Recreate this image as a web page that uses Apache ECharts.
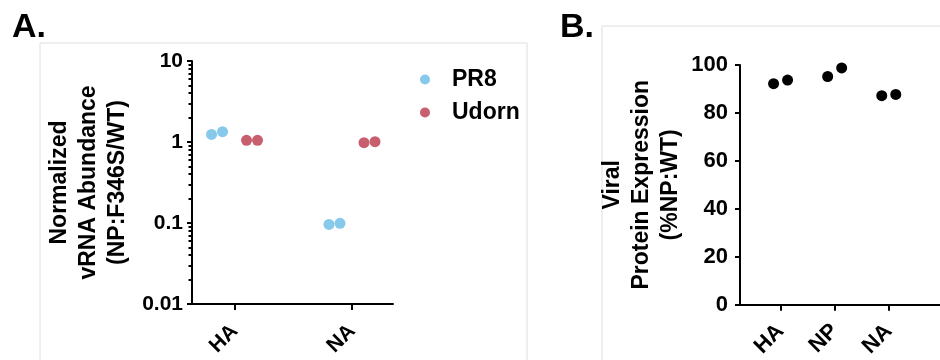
<!DOCTYPE html>
<html>
<head>
<meta charset="utf-8">
<script src="https://cdn.jsdelivr.net/npm/echarts@6/dist/echarts.min.js"></script>
<style>
  html, body { margin: 0; padding: 0; background: #fff; }
  #chart { width: 940px; height: 360px; }
</style>
</head>
<body>
<div id="chart"></div>
<script>
// ---- Panel A data ----
const categoriesA = ['HA', 'NA'];
const pr8Rep1 = [1.24, 0.096];
const pr8Rep2 = [1.34, 0.099];
const udornRep1 = [1.05, 0.98];
const udornRep2 = [1.05, 1.01];
const ticksA = [0.01, 0.1, 1, 10];
const tickLabelsA = ['0.01', '0.1', '1', '10'];
const minorTicksA = [0.02, 0.03, 0.04, 0.05, 0.06, 0.07, 0.08, 0.09,
                     0.2, 0.3, 0.4, 0.5, 0.6, 0.7, 0.8, 0.9,
                     2, 3, 4, 5, 6, 7, 8, 9];

// ---- Panel B data ----
const categoriesB = ['HA', 'NP', 'NA'];
const protRep1 = [92.2, 95.2, 87.2];
const protRep2 = [93.7, 98.8, 87.7];

const FONT = 'Liberation Sans, Arial, sans-serif';
const BLUE = '#86C9EA';
const RED = '#C85F6E';

function pts(vals) { return vals.map((v, i) => [i, v]); }

const chart = echarts.init(document.getElementById('chart'), null, { renderer: 'canvas' });

const option = {
  animation: false,
  backgroundColor: '#fff',
  title: [
    { text: 'A.', left: 7, top: 6, textStyle: { fontFamily: FONT, fontWeight: 'bold', fontSize: 34, color: '#000' } },
    { text: 'B.', left: 555, top: 6, textStyle: { fontFamily: FONT, fontWeight: 'bold', fontSize: 34, color: '#000' } }
  ],
  graphic: [
    { type: 'rect', shape: { x: 40, y: 43, width: 487, height: 340 }, style: { fill: 'none', stroke: '#dedede', lineWidth: 1 }, silent: true, z: -1 },
    { type: 'rect', shape: { x: 602, y: 26, width: 400, height: 400 }, style: { fill: 'none', stroke: '#dedede', lineWidth: 1 }, silent: true, z: -1 }
  ],
  legend: {
    orient: 'vertical',
    left: 415,
    top: 63,
    icon: 'circle',
    itemWidth: 10,
    itemHeight: 10,
    itemGap: 10,
    data: ['PR8', 'Udorn'],
    itemStyle: { opacity: 1 },
    textStyle: { fontFamily: FONT, fontWeight: 'bold', fontSize: 23, color: '#000', lineHeight: 23, padding: [0, 0, 0, 17] }
  },
  grid: [
    { left: 192, top: 61, width: 201, height: 243 },
    { left: 740, top: 65, width: 210, height: 244 }
  ],
  xAxis: [
    {
      type: 'value', gridIndex: 0, min: -0.362, max: 1.349,
      axisLine: { show: true, onZero: false, lineStyle: { color: '#000', width: 2 } },
      axisTick: { show: true, customValues: [0, 1], length: 6, lineStyle: { color: '#000', width: 2 } },
      axisLabel: {
        customValues: [0, 1], rotate: 45, margin: 24,
        formatter: v => categoriesA[Math.round(v)],
        fontFamily: FONT, fontWeight: 'bold', fontSize: 21, color: '#000'
      },
      splitLine: { show: false }
    },
    {
      type: 'value', gridIndex: 1, min: -0.75, max: -0.75 + 210 / 56.8,
      axisLine: { show: true, onZero: false, lineStyle: { color: '#000', width: 2 } },
      axisTick: { show: true, customValues: [0, 1, 2], length: 6, lineStyle: { color: '#000', width: 2 } },
      axisLabel: {
        customValues: [0, 1, 2], rotate: 45, margin: 23,
        formatter: v => categoriesB[Math.round(v)],
        fontFamily: FONT, fontWeight: 'bold', fontSize: 22, color: '#000'
      },
      splitLine: { show: false }
    }
  ],
  yAxis: [
    {
      type: 'log', logBase: 10, gridIndex: 0, min: 0.01, max: 10,
      name: 'Normalized\nvRNA Abundance\n(NP:F346S/WT)',
      nameLocation: 'middle', nameGap: 60,
      nameTextStyle: { fontFamily: FONT, fontWeight: 'bold', fontSize: 23, color: '#000', lineHeight: 29, align: 'center' },
      axisLine: { show: true, onZero: false, lineStyle: { color: '#000', width: 2 } },
      axisTick: { show: true, customValues: ticksA, length: 5, lineStyle: { color: '#000', width: 2 } },
      axisLabel: {
        customValues: ticksA, margin: 9,
        formatter: v => tickLabelsA[ticksA.findIndex(t => Math.abs(t - v) / t < 1e-6)],
        fontFamily: FONT, fontWeight: 'bold', fontSize: 21, color: '#000'
      },
      splitLine: { show: false }
    },
    {
      type: 'log', logBase: 10, gridIndex: 0, min: 0.01, max: 10, position: 'left', offset: 0,
      axisLine: { show: false, onZero: false },
      axisTick: { show: true, customValues: minorTicksA, length: 3.5, lineStyle: { color: '#000', width: 2 } },
      axisLabel: { show: false },
      splitLine: { show: false }
    },
    {
      type: 'value', gridIndex: 1, min: 0, max: 100, interval: 20,
      name: 'Viral\nProtein Expression\n(%NP:WT)',
      nameLocation: 'middle', nameGap: 55,
      nameTextStyle: { fontFamily: FONT, fontWeight: 'bold', fontSize: 23, color: '#000', lineHeight: 29, align: 'center' },
      axisLine: { show: true, onZero: false, lineStyle: { color: '#000', width: 2 } },
      axisTick: { show: true, length: 5, lineStyle: { color: '#000', width: 2 } },
      axisLabel: { margin: 12, fontFamily: FONT, fontWeight: 'bold', fontSize: 22, color: '#000' },
      splitLine: { show: false }
    }
  ],
  series: [
    { name: 'PR8', type: 'scatter', xAxisIndex: 0, yAxisIndex: 0, data: pts(pr8Rep1), symbolSize: 11, symbolOffset: [-23, 0], itemStyle: { color: BLUE, opacity: 1 } },
    { name: 'PR8', type: 'scatter', xAxisIndex: 0, yAxisIndex: 0, data: pts(pr8Rep2), symbolSize: 11, symbolOffset: [-12, 0], itemStyle: { color: BLUE, opacity: 1 } },
    { name: 'Udorn', type: 'scatter', xAxisIndex: 0, yAxisIndex: 0, data: pts(udornRep1), symbolSize: 11, symbolOffset: [12, 0], itemStyle: { color: RED, opacity: 1 } },
    { name: 'Udorn', type: 'scatter', xAxisIndex: 0, yAxisIndex: 0, data: pts(udornRep2), symbolSize: 11, symbolOffset: [23, 0], itemStyle: { color: RED, opacity: 1 } },
    { name: 'Protein rep 1', type: 'scatter', xAxisIndex: 1, yAxisIndex: 2, data: pts(protRep1), symbolSize: 11, symbolOffset: [-7, 0], itemStyle: { color: '#000', opacity: 1 } },
    { name: 'Protein rep 2', type: 'scatter', xAxisIndex: 1, yAxisIndex: 2, data: pts(protRep2), symbolSize: 11, symbolOffset: [7, 0], itemStyle: { color: '#000', opacity: 1 } }
  ]
};

chart.setOption(option);
</script>
</body>
</html>
